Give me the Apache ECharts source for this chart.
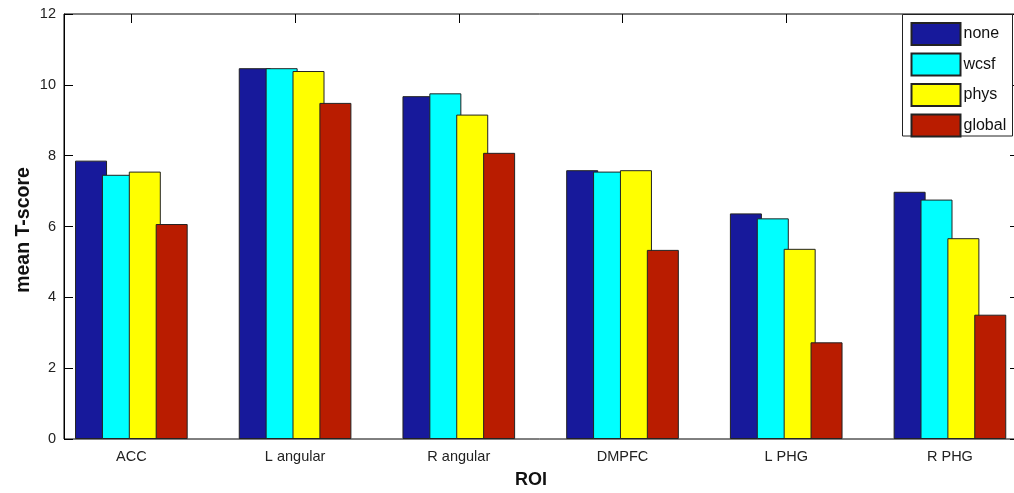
<!DOCTYPE html>
<html>
<head>
<meta charset="utf-8">
<script src="https://cdn.jsdelivr.net/npm/echarts@6/dist/echarts.min.js"></script>
<style>
html,body{margin:0;padding:0;background:#fff;}
#chart{width:1014px;height:493px;}
</style>
</head>
<body>
<div id="chart"></div>
<script>
var categories = ['ACC', 'L angular', 'R angular', 'DMPFC', 'L PHG', 'R PHG'];
var seriesNames = ['none', 'wcsf', 'phys', 'global'];
var noneVals   = [7.86, 10.47, 9.68, 7.59, 6.37, 6.98];
var wcsfVals   = [7.46, 10.47, 9.76, 7.55, 6.23, 6.76];
var physVals   = [7.55, 10.39, 9.16, 7.59, 5.37, 5.67];
var globalVals = [6.07, 9.49, 8.08, 5.34, 2.73, 3.51];
var yTicks = [0, 2, 4, 6, 8, 10, 12];
var colors = ['#17199B', '#00FFFF', '#FFFF00', '#B91C00'];

var font = 'Liberation Sans, Arial, sans-serif';
var allVals = [noneVals, wcsfVals, physVals, globalVals];

var series = seriesNames.map(function (n, i) {
  return {
    name: n,
    type: 'bar',
    xAxisIndex: 0,
    yAxisIndex: 0,
    data: allVals[i],
    barWidth: 32,
    barGap: '-16%',
    itemStyle: { color: colors[i], borderColor: '#222', borderWidth: 1 },
    emphasis: { disabled: true },
    animation: false
  };
});

var chart = echarts.init(document.getElementById('chart'), null, { renderer: 'canvas' });
chart.setOption({
  animation: false,
  backgroundColor: '#fff',
  grid: [
    { left: 49.5, width: 982.3, top: 14, bottom: 54, containLabel: false, outerBoundsMode: 'none' },
    { left: 64, width: 955, top: 14, bottom: 54, containLabel: false, outerBoundsMode: 'none',
      show: true, borderColor: '#000', borderWidth: 1, backgroundColor: 'transparent' }
  ],
  xAxis: [
    { type: 'category', gridIndex: 0, position: 'bottom', data: categories,
      axisLine: { show: false }, axisTick: { show: false },
      axisLabel: { margin: 10, color: '#222', fontSize: 14.5, fontFamily: font } },
    { type: 'value', gridIndex: 1, min: 0, max: 1, show: false },
    { type: 'category', gridIndex: 0, position: 'top', data: categories,
      axisLine: { show: false }, axisLabel: { show: false },
      axisTick: { show: true, inside: true, length: 9, alignWithLabel: true, lineStyle: { color: '#000' } } }
  ],
  yAxis: [
    { type: 'value', gridIndex: 0, min: 0, max: 12, interval: 2, show: false },
    { type: 'value', gridIndex: 1, position: 'left', min: 0, max: 12, interval: 2,
      splitLine: { show: false },
      axisLine: { show: true, lineStyle: { color: '#000' } },
      axisTick: { show: true, inside: true, length: 9, lineStyle: { color: '#000' } },
      axisLabel: { margin: 8, color: '#222', fontSize: 14.5, fontFamily: font,
        formatter: function (v) { return yTicks.indexOf(v) >= 0 ? String(v) : ''; } } },
    { type: 'value', gridIndex: 1, position: 'right', min: 0, max: 12, interval: 2,
      splitLine: { show: false },
      axisLine: { show: true, lineStyle: { color: '#000' } },
      axisTick: { show: true, inside: true, length: 9, lineStyle: { color: '#000' } },
      axisLabel: { show: false } }
  ],
  legend: {
    data: seriesNames,
    orient: 'vertical',
    left: 910.5,
    top: 22,
    padding: 0,
    icon: 'rect',
    itemWidth: 49,
    itemHeight: 22,
    itemGap: 6.5,
    selectedMode: false,
    textStyle: { fontSize: 16, color: '#111', fontFamily: font, padding: [0, 0, 3, -2] }
  },
  graphic: [
    { type: 'rect', z: 3, shape: { x: 902.5, y: 14.5, width: 110, height: 121.5 },
      style: { fill: '#fff', stroke: '#222', lineWidth: 1 } },
    { type: 'text', x: 24, y: 230, rotation: Math.PI / 2,
      style: { text: 'mean T-score', font: 'bold 19.5px ' + font, fill: '#111', align: 'center', verticalAlign: 'middle' } },
    { type: 'text', x: 531, y: 480,
      style: { text: 'ROI', font: 'bold 18px ' + font, fill: '#111', align: 'center', verticalAlign: 'middle' } }
  ],
  series: series
});
</script>
</body>
</html>
